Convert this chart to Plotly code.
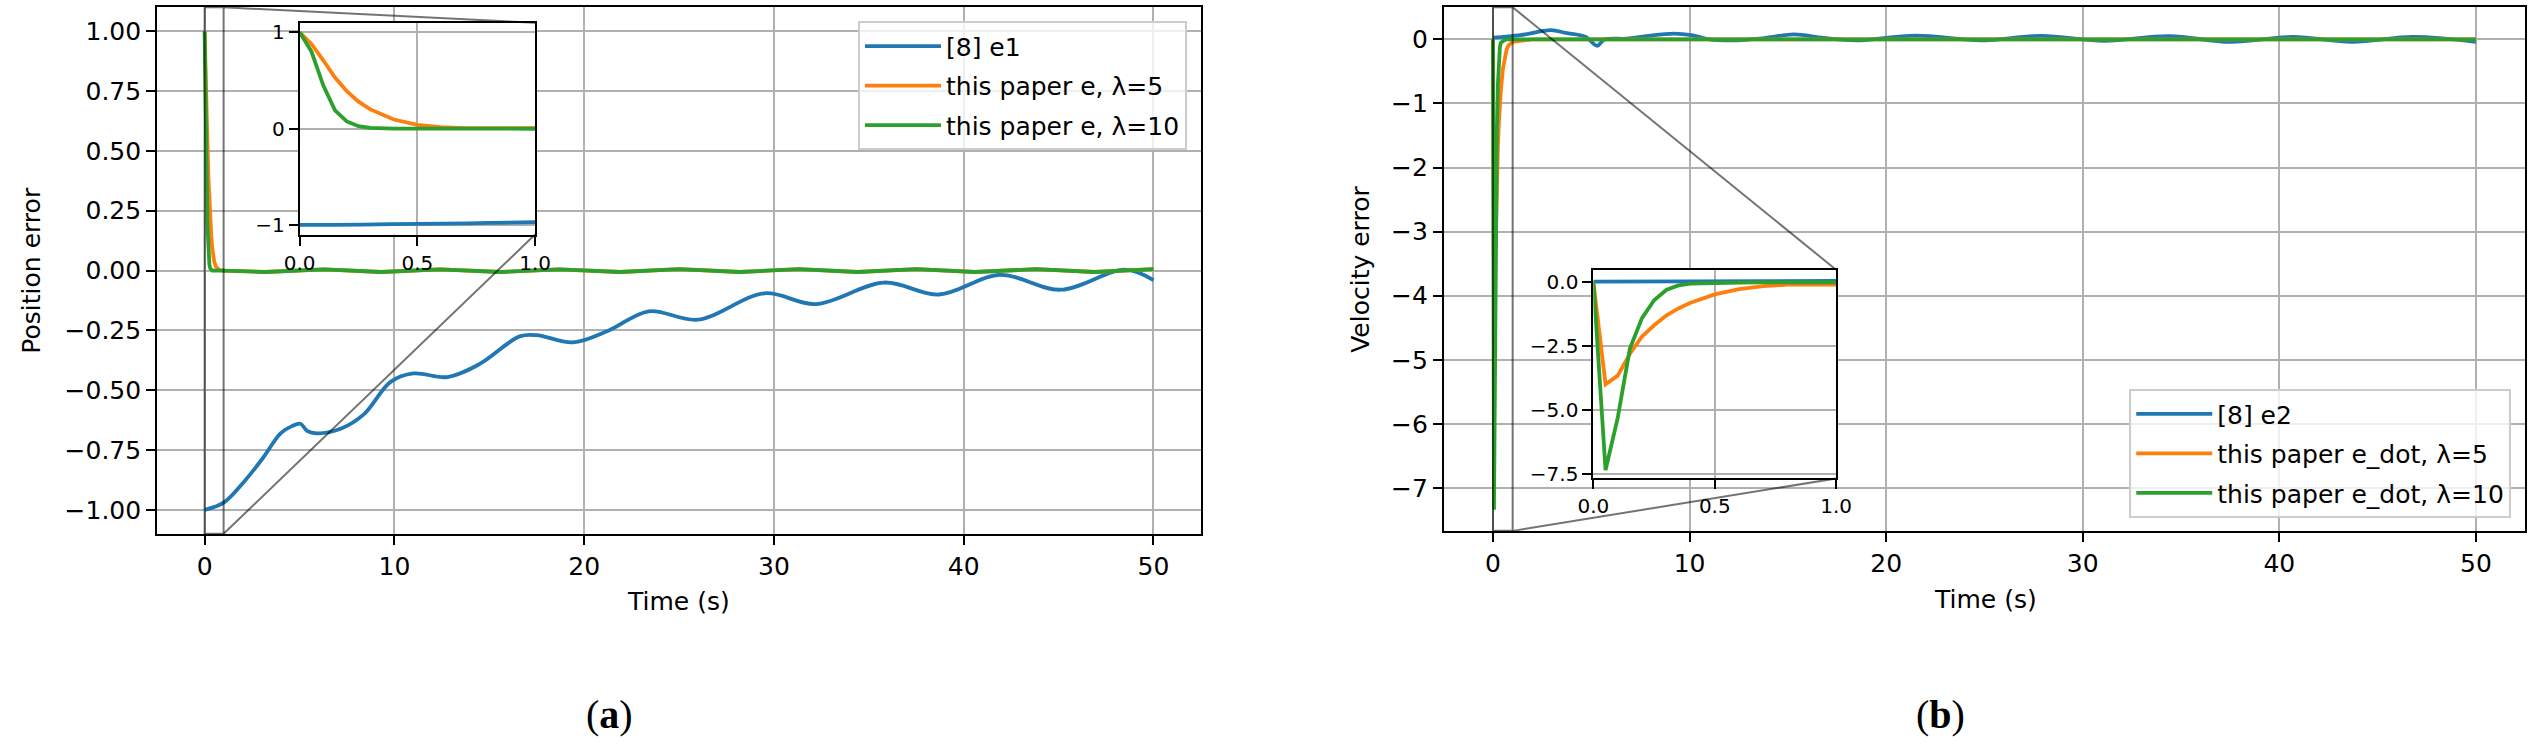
import plotly.graph_objects as go

# ---- data ----
# (a) position error
t_e1 = [0, 1.0, 2.1, 3.1, 4.0, 4.6, 5.05, 5.4, 5.9, 7.2, 8.4, 9.8, 11.0, 12.8, 14.5,
        16.6, 17.5, 19.4, 21.3, 23.4, 26.0, 29.5, 32.2, 35.8, 38.7, 41.9, 45.1, 48.5, 50]
e1 = [-1.0, -0.97, -0.88, -0.78, -0.68, -0.65, -0.64, -0.67, -0.68, -0.66, -0.60, -0.465,
      -0.43, -0.445, -0.39, -0.275, -0.27, -0.30, -0.25, -0.17, -0.205, -0.095, -0.14,
      -0.05, -0.10, -0.018, -0.08, 0.004, -0.04]

t_early = [0, 0.05, 0.1, 0.15, 0.2, 0.25, 0.3, 0.35, 0.4, 0.5, 0.6, 0.7, 0.8, 1.0]
e_l5_early = [1.0, 0.88, 0.71, 0.53, 0.39, 0.28, 0.20, 0.145, 0.095, 0.04, 0.015, 0.006, 0.002, 0.0]
e_l10_early = [1.0, 0.80, 0.45, 0.19, 0.075, 0.025, 0.008, 0.002, 0.0, 0.0, 0.0, 0.0, 0.0, 0.0]

t_late = [3.2, 6.3, 9.3, 12.4, 15.6, 18.7, 21.9, 25.0, 28.2, 31.3, 34.4, 37.5, 40.6, 43.8, 46.9, 50]
e_late = [-0.006, 0.005, -0.006, 0.005, -0.006, 0.005, -0.006, 0.006, -0.006, 0.006,
          -0.006, 0.006, -0.006, 0.006, -0.006, 0.006]

# (b) velocity error
t_e2 = [0, 1.4, 2.95, 3.7, 4.7, 5.3, 5.65, 6.8, 7.8, 9.2, 10.1, 11.0, 12.2, 13.7, 15.3,
        16.8, 18.5, 21.5, 24.8, 27.9, 31.1, 34.4, 37.5, 40.7, 43.7, 46.8, 50]
e2 = [0.026, 0.066, 0.144, 0.10, 0.04, -0.10, -0.005, 0.01, 0.05, 0.09, 0.066, 0.0, -0.016,
      0.016, 0.077, 0.022, -0.016, 0.06, -0.016, 0.055, -0.022, 0.05, -0.038, 0.038,
      -0.038, 0.038, -0.038]

t_dot_early = [0, 0.05, 0.1, 0.15, 0.2, 0.25, 0.3, 0.35, 0.4, 0.5, 0.6, 0.7, 0.8, 0.9, 1.0]
edot_l5_early = [0.0, -3.99, -3.65, -2.80, -2.12, -1.68, -1.30, -1.02, -0.80, -0.47, -0.27,
                 -0.15, -0.09, -0.06, -0.04]
edot_l10_early = [0.0, -7.34, -5.30, -2.60, -1.40, -0.70, -0.30, -0.12, -0.05, -0.02, -0.01,
                  0.0, 0.0, 0.0, 0.0]
t_dot_late = [2.0, 10, 20, 30, 40, 50]
edot_late = [0.0, 0.0, 0.0, 0.0, 0.0, 0.0]

BLUE, ORANGE, GREEN = "#1f77b4", "#ff7f0e", "#2ca02c"
FONT = "DejaVu Sans"
W, H = 2547, 751

# axes placement (paper fractions)
dom = {
    "a_x": [0.05614, 0.47114], "a_y": [0.28229, 0.99281],
    "b_x": [0.56773, 0.99764], "b_y": [0.28628, 0.99281],
    "ai_x": [0.11280, 0.20640], "ai_y": [0.68615, 0.97204],
    "bi_x": [0.62721, 0.72371], "bi_y": [0.35699, 0.63862],
}
rng = {
    "a_x": [-2.5, 52.5], "a_y": [-1.1, 1.1],
    "b_x": [-2.5, 52.5], "b_y": [-7.67, 0.5],
    "ai_x": [0, 1], "ai_y": [-1.1, 1.1],
    "bi_x": [0, 1], "bi_y": [-7.67, 0.49],
}

fig = go.Figure()

series_a = [
    ("[8] e1", t_e1, e1, BLUE, "spline"),
    ("this paper e, λ=5", t_early + t_late, e_l5_early + e_late, ORANGE, "linear"),
    ("this paper e, λ=10", t_early + t_late, e_l10_early + e_late, GREEN, "linear"),
]
series_b = [
    ("[8] e2", t_e2, e2, BLUE, "spline"),
    ("this paper e_dot, λ=5", t_dot_early + t_dot_late, edot_l5_early + edot_late, ORANGE, "linear"),
    ("this paper e_dot, λ=10", t_dot_early + t_dot_late, edot_l10_early + edot_late, GREEN, "linear"),
]

for i, (name, x, y, c, shape) in enumerate(series_a):
    fig.add_trace(go.Scatter(x=x, y=y, mode="lines", name=name, xaxis="x", yaxis="y",
                             legendgroup="a%d" % i, legend="legend",
                             line=dict(color=c, width=3.8, shape=shape)))
for i, (name, x, y, c, shape) in enumerate(series_b):
    fig.add_trace(go.Scatter(x=x, y=y, mode="lines", name=name, xaxis="x2", yaxis="y2",
                             legendgroup="b%d" % i, legend="legend2",
                             line=dict(color=c, width=3.8, shape=shape)))
# insets
for name, x, y, c, shape in series_a:
    fig.add_trace(go.Scatter(x=x, y=y, mode="lines", showlegend=False, xaxis="x3", yaxis="y3",
                             line=dict(color=c, width=3.8, shape=shape)))
for name, x, y, c, shape in series_b:
    fig.add_trace(go.Scatter(x=x, y=y, mode="lines", showlegend=False, xaxis="x4", yaxis="y4",
                             line=dict(color=c, width=3.8, shape=shape)))


def ax(key, anchor, size, **kw):
    return dict(domain=dom[key], range=rng[key], anchor=anchor, showline=True, mirror=True,
                linecolor="black", linewidth=2, ticks="outside", ticklen=9, tickwidth=2,
                tickcolor="black", showgrid=True, gridcolor="#b0b0b0", gridwidth=2,
                zeroline=False, tickfont=dict(family=FONT, size=size, color="black"), **kw)


legend_style = dict(bgcolor="rgba(255,255,255,0.8)", bordercolor="#cccccc", borderwidth=2,
                    tracegroupgap=4, itemwidth=76,
                    font=dict(family=FONT, size=25, color="black"))

fig.update_layout(
    width=W, height=H, margin=dict(l=0, r=0, t=0, b=0),
    paper_bgcolor="white", plot_bgcolor="white",
    xaxis=ax("a_x", "y", 25, tickvals=[0, 10, 20, 30, 40, 50]),
    yaxis=ax("a_y", "x", 25, tickvals=[-1, -0.75, -0.5, -0.25, 0, 0.25, 0.5, 0.75, 1],
             tickformat=".2f"),
    xaxis2=ax("b_x", "y2", 25, tickvals=[0, 10, 20, 30, 40, 50]),
    yaxis2=ax("b_y", "x2", 25, tickvals=[-7, -6, -5, -4, -3, -2, -1, 0]),
    xaxis3=ax("ai_x", "y3", 20, tickvals=[0, 0.5, 1], tickformat=".1f"),
    yaxis3=ax("ai_y", "x3", 20, tickvals=[-1, 0, 1]),
    xaxis4=ax("bi_x", "y4", 20, tickvals=[0, 0.5, 1], tickformat=".1f"),
    yaxis4=ax("bi_y", "x4", 20, tickvals=[-7.5, -5, -2.5, 0], tickformat=".1f"),
    legend=dict(x=0.4656, xanchor="right", y=0.9739, yanchor="top", **legend_style),
    legend2=dict(x=0.99215, xanchor="right", y=0.3036, yanchor="bottom", **legend_style),
)


def to_paper(key, v):
    d, r = dom[key], rng[key]
    return d[0] + (v - r[0]) / (r[1] - r[0]) * (d[1] - d[0])


zoom_col = "rgba(0,0,0,0.55)"
shapes = []
for main, inset, xr, yr in [("a", "ai", "x", "y"), ("b", "bi", "x2", "y2")]:
    # zoom rectangle on the main axes (t from 0 to 1, full height)
    shapes.append(dict(type="rect", xref=xr, yref=yr + " domain", x0=0, x1=1, y0=0, y1=1,
                       line=dict(color=zoom_col, width=2), fillcolor="rgba(0,0,0,0)"))
    # connectors from rectangle right corners to inset right corners
    px = to_paper(main + "_x", 1)
    ix = dom[inset + "_x"][1]
    shapes.append(dict(type="line", xref="paper", yref="paper", x0=px, y0=dom[main + "_y"][1],
                       x1=ix, y1=dom[inset + "_y"][1], line=dict(color=zoom_col, width=2)))
    shapes.append(dict(type="line", xref="paper", yref="paper", x0=px, y0=dom[main + "_y"][0],
                       x1=ix, y1=dom[inset + "_y"][0], line=dict(color=zoom_col, width=2)))
fig.update_layout(shapes=shapes)

lab = dict(family=FONT, size=25, color="black")
annos = [
    dict(text="Position error", x=15.6 / W, y=0.638, textangle=-90),
    dict(text="Velocity error", x=1362 / W, y=0.6398, textangle=-90),
    dict(text="Time (s)", x=671 / W, y=1 - 608 / H),
    dict(text="Time (s)", x=1995 / W, y=1 - 606 / H),
]
for a in annos:
    fig.add_annotation(xref="paper", yref="paper", showarrow=False, font=lab,
                       xanchor="center", yanchor="middle", **a)
for txt, x in [("(<b>a</b>)", 601 / W), ("(<b>b</b>)", 1949 / W)]:
    fig.add_annotation(xref="paper", yref="paper", showarrow=False, text=txt, x=x,
                       y=1 - 722 / H, xanchor="center", yanchor="middle",
                       font=dict(family="Liberation Serif", size=40, color="black"))

# drop the default page margin so the figure sits at the window origin
fig.write_html("out.html", config={"displayModeBar": False},
               post_script="document.body.style.margin='0';")
